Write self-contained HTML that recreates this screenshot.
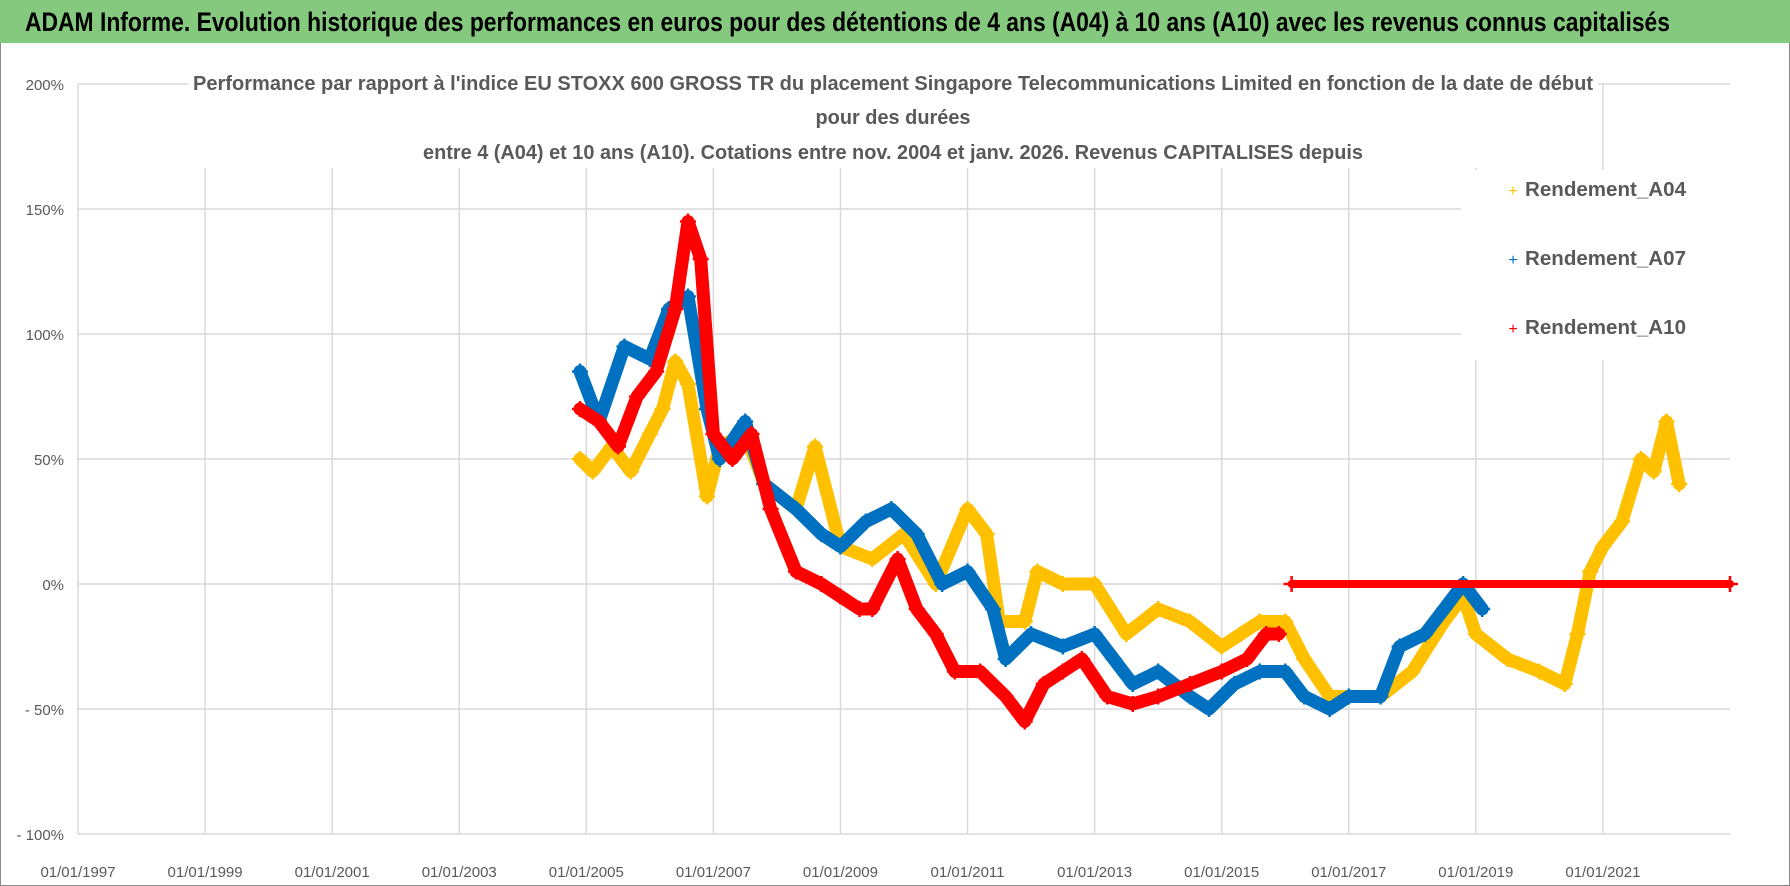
<!DOCTYPE html>
<html><head><meta charset="utf-8"><style>
body{margin:0;background:#fff;}
svg{display:block;font-family:"Liberation Sans",sans-serif;}
</style></head><body>
<svg id="chart" width="1790" height="886" viewBox="0 0 1790 886">
<rect x="0" y="0" width="1790" height="886" fill="#fff" stroke="#888" stroke-width="2"/>
<rect x="0" y="0" width="1790" height="43" fill="#85c97e"/>
<text x="25" y="31" font-size="27" font-weight="bold" fill="#000" textLength="1645" lengthAdjust="spacingAndGlyphs">ADAM Informe. Evolution historique des performances en euros pour des détentions de 4 ans (A04) à 10 ans (A10) avec les revenus connus capitalisés</text>
<g id="grid"></g>
<g id="yticks"></g>
<g id="xticks"></g>
<rect x="188" y="62" width="1410" height="106" fill="#fff"/>
<g fill="#595959" font-size="20" font-weight="bold" text-anchor="middle">
<text x="893" y="90" textLength="1400" lengthAdjust="spacingAndGlyphs">Performance par rapport à l'indice EU STOXX 600 GROSS TR  du placement Singapore Telecommunications Limited en fonction de la date de début</text>
<text x="893" y="124" textLength="155" lengthAdjust="spacingAndGlyphs">pour des durées</text>
<text x="893" y="159" textLength="940" lengthAdjust="spacingAndGlyphs">entre 4 (A04) et 10 ans (A10). Cotations entre nov. 2004 et janv. 2026. Revenus CAPITALISES depuis</text>
</g>
<g id="series"></g>
<rect x="1461" y="170" width="269" height="190" fill="#fff"/>
<g font-size="20" font-weight="bold" fill="#595959">
<g><text x="1513" y="196" fill="#FFC000" font-size="16" font-weight="normal" text-anchor="middle">+</text><text x="1525" y="196" textLength="161" lengthAdjust="spacingAndGlyphs">Rendement_A04</text></g>
<g><text x="1513" y="265" fill="#0070C0" font-size="16" font-weight="normal" text-anchor="middle">+</text><text x="1525" y="265" textLength="161" lengthAdjust="spacingAndGlyphs">Rendement_A07</text></g>
<g><text x="1513" y="334" fill="#FF0000" font-size="16" font-weight="normal" text-anchor="middle">+</text><text x="1525" y="334" textLength="161" lengthAdjust="spacingAndGlyphs">Rendement_A10</text></g>
</g>
</svg>
<script>
const yTicks=[200,150,100,50,0,-50,-100];
const yTickLabels=["200%","150%","100%","50%","0%","- 50%","- 100%"];
const xTicks=[1997,1999,2001,2003,2005,2007,2009,2011,2013,2015,2017,2019,2021];
const xTickLabels=["01/01/1997","01/01/1999","01/01/2001","01/01/2003","01/01/2005","01/01/2007","01/01/2009","01/01/2011","01/01/2013","01/01/2015","01/01/2017","01/01/2019","01/01/2021"];
const a04Dates=[2004.9,2005.1,2005.4,2005.7,2006.0,2006.2,2006.4,2006.6,2006.9,2007.1,2007.5,2007.8,2008.3,2008.6,2009.0,2009.5,2010.0,2010.5,2011.0,2011.3,2011.5,2011.9,2012.1,2012.5,2013.0,2013.5,2014.0,2014.5,2015.0,2015.3,2015.6,2016.0,2016.3,2016.7,2017.0,2017.5,2018.0,2018.5,2018.8,2019.0,2019.5,2020.0,2020.4,2020.6,2020.8,2021.0,2021.3,2021.6,2021.8,2022.0,2022.2];
const a04Values=[50,45,55,45,60,70,89,80,35,55,60,40,30,55,15,10,20,0,30,20,-15,-15,5,0,0,-20,-10,-15,-25,-20,-15,-15,-30,-45,-45,-45,-35,-15,-5,-20,-30,-35,-40,-20,5,15,25,50,45,65,40];
const a07Dates=[2004.9,2005.2,2005.6,2006.0,2006.3,2006.6,2006.9,2007.1,2007.5,2007.8,2008.3,2008.7,2009.0,2009.4,2009.8,2010.2,2010.6,2011.0,2011.4,2011.6,2012.0,2012.5,2013.0,2013.3,2013.6,2014.0,2014.5,2014.8,2015.2,2015.6,2016.0,2016.3,2016.7,2017.0,2017.5,2017.8,2018.2,2018.5,2018.8,2019.1];
const a07Values=[85,65,95,90,110,115,70,50,65,40,30,20,15,25,30,20,0,5,-10,-30,-20,-25,-20,-30,-40,-35,-45,-50,-40,-35,-35,-45,-50,-45,-45,-25,-20,-10,0,-10];
const a10Dates=[2004.9,2005.2,2005.5,2005.8,2006.1,2006.4,2006.6,2006.8,2007.0,2007.3,2007.6,2007.9,2008.3,2008.7,2009.0,2009.3,2009.5,2009.9,2010.2,2010.5,2010.8,2011.2,2011.6,2011.9,2012.2,2012.5,2012.8,2013.2,2013.6,2014.0,2014.5,2015.0,2015.4,2015.7,2015.9];
const a10Values=[70,65,55,75,85,110,145,130,60,50,60,30,5,0,-5,-10,-10,10,-10,-20,-35,-35,-45,-55,-40,-35,-30,-45,-48,-45,-40,-35,-30,-20,-20];
const a10FlatDates=[2016.1,2023.0];
const a10FlatValues=[0,0];

const NS="http://www.w3.org/2000/svg";
const X0=78,X1=1730,XMIN=1997,XMAX=2023;
const Y0=834,Y1=84,YMIN=-100,YMAX=200;
const xs=d=>X0+(d-XMIN)/(XMAX-XMIN)*(X1-X0);
const ys=v=>Y0-(v-YMIN)/(YMAX-YMIN)*(Y0-Y1);
function mk(tag,attrs,parent){const e=document.createElementNS(NS,tag);for(const k in attrs)e.setAttribute(k,attrs[k]);parent.appendChild(e);return e;}
const grid=document.getElementById('grid'),yt=document.getElementById('yticks'),xt=document.getElementById('xticks'),ser=document.getElementById('series');
yTicks.forEach((v,i)=>{
  const l=mk('line',{x1:X0,x2:X1,y1:ys(v),y2:ys(v),stroke:'#d9d9d9','stroke-width':1.5},grid);
  
  
  const t=mk('text',{x:64,y:ys(v)+6,'text-anchor':'end','font-size':15,fill:'#595959'},yt);
  t.textContent=yTickLabels[i];
  
  
});
xTicks.forEach((d,i)=>{
  const l=mk('line',{x1:xs(d),x2:xs(d),y1:Y1,y2:Y0,stroke:'#d9d9d9','stroke-width':1.5},grid);
  
  
  const t=mk('text',{x:xs(d),y:877,'text-anchor':'middle','font-size':15,fill:'#595959'},xt);
  t.textContent=xTickLabels[i];
  
  
});
function series(dates,vals,color,name,w){
  const g=mk('g',{},ser);
  
  
  const pts=dates.map((d,i)=>xs(d).toFixed(1)+','+ys(vals[i]).toFixed(1)).join(' ');
  mk('polyline',{points:pts,fill:'none',stroke:color,'stroke-width':w,'stroke-linejoin':'round','stroke-linecap':'round'},g);
  dates.forEach((d,i)=>{
    const x=xs(d),y=ys(vals[i]);
    const p=mk('path',{d:`M${x-8},${y}H${x+8}M${x},${y-8}V${y+8}`,stroke:color,'stroke-width':2.5},g);
    
    
  });
}
series(a04Dates,a04Values,'#FFC000','series-a04',13);
series(a07Dates,a07Values,'#0070C0','series-a07',13);
series(a10Dates,a10Values,'#FF0000','series-a10',13);
series(a10FlatDates,a10FlatValues,'#FF0000','series-a10-flat',8);
</script>
</body></html>
